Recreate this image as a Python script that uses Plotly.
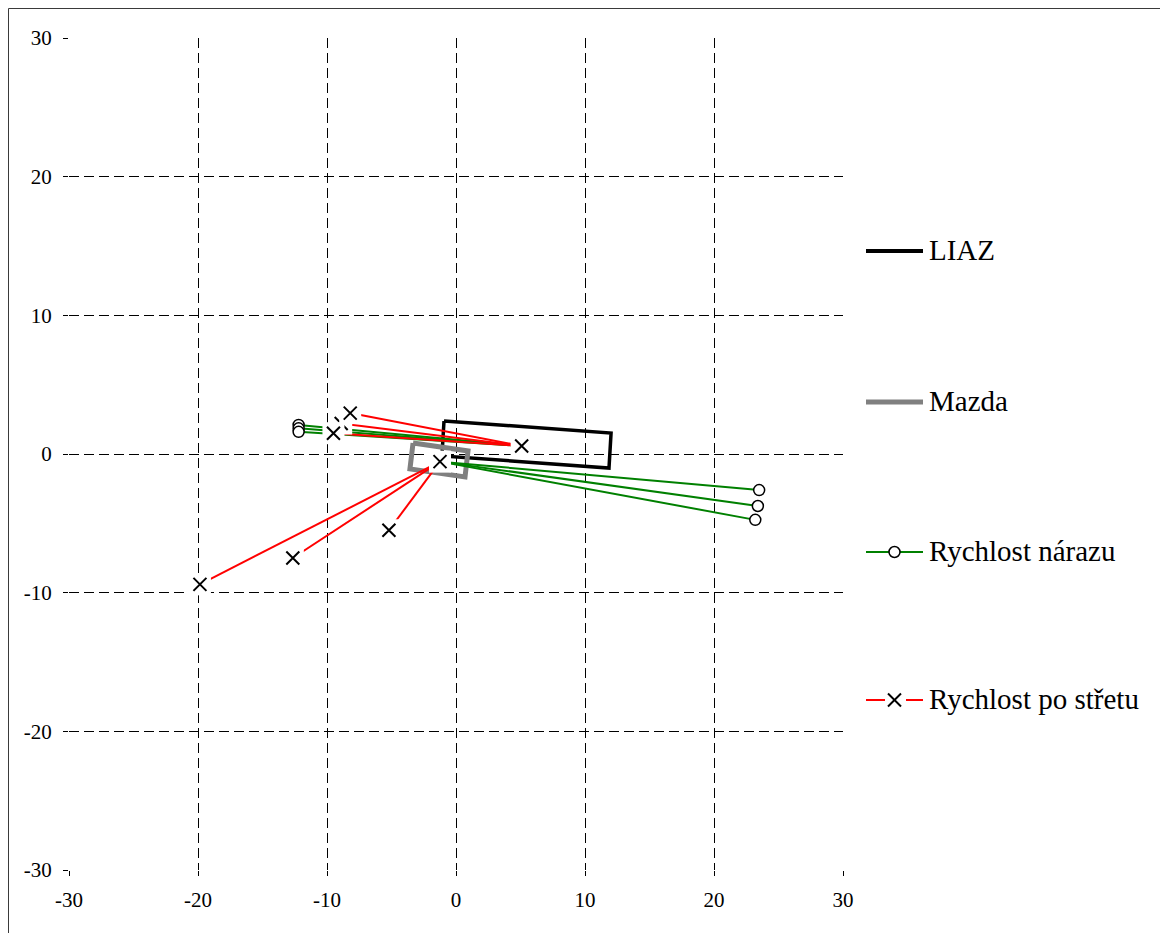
import plotly.graph_objects as go

# ---------------- data ----------------
tick_vals = [-30, -20, -10, 0, 10, 20, 30]
tick_text = ["-30", "-20", "-10", "0", "10", "20", "30"]

liaz_x = [-0.93, 12.02, 11.86, -1.09, -0.93]
liaz_y = [2.38, 1.51, -1.01, -0.14, 2.38]

mazda_x = [-3.33, 0.93, 0.70, -3.57, -3.33]
mazda_y = [0.79, 0.22, -1.66, -1.08, 0.79]

center_names = ["LIAZ", "Mazda"]
center_x = [5.09, -1.24]
center_y = [0.58, -0.55]

# Rychlost nárazu (impact velocity vectors)
impact_origin = [0, 0, 0, 1, 1, 1]
impact_end_x = [-12.2, -12.2, -12.2, 23.5, 23.4, 23.2]
impact_end_y = [2.1, 1.85, 1.6, -2.6, -3.75, -4.75]

# Rychlost po střetu (post-impact velocity vectors)
after_origin = [0, 0, 0, 1, 1, 1]
after_end_x = [-8.9, -8.2, -9.5, -19.85, -12.65, -5.2]
after_end_y = [2.2, 2.95, 1.5, -9.4, -7.5, -5.5]

legend_names = ["LIAZ", "Mazda", "Rychlost nárazu", "Rychlost po střetu"]

# ---------------- layout geometry ----------------
OFF = 8  # page body margin
W, H = 1168 - OFF, 933 - OFF
ML, MT = 69 - OFF, 38 - OFF
PW, PH = 774, 832
MR = W - ML - PW
MB = H - MT - PH
FONT = "Liberation Serif"


def px(xp):
    """page pixel x -> paper coordinate"""
    return (xp - OFF - ML) / PW


def py(yp):
    """page pixel y -> paper coordinate"""
    return (MT + PH - (yp - OFF)) / PH


def segments(orig, ex, ey):
    xs, ys = [], []
    for o, x, y in zip(orig, ex, ey):
        xs += [center_x[o], x, None]
        ys += [center_y[o], y, None]
    return xs, ys


fig = go.Figure()

fig.add_trace(go.Scatter(x=liaz_x, y=liaz_y, mode="lines", name="LIAZ",
                         line=dict(color="black", width=3.5), showlegend=False))
fig.add_trace(go.Scatter(x=mazda_x, y=mazda_y, mode="lines", name="Mazda",
                         line=dict(color="#808080", width=5), showlegend=False))

gx, gy = segments(impact_origin, impact_end_x, impact_end_y)
fig.add_trace(go.Scatter(x=gx, y=gy, mode="lines+markers", name="Rychlost nárazu",
                         line=dict(color="#008000", width=2),
                         marker=dict(symbol="circle", size=11, color="white",
                                     line=dict(color="black", width=1.5)),
                         showlegend=False))

rx, ry = segments(after_origin, after_end_x, after_end_y)
fig.add_trace(go.Scatter(x=rx, y=ry, mode="lines", name="Rychlost po střetu",
                         line=dict(color="#FF0000", width=2), showlegend=False))

# markers of post-impact series: white box behind an x, drawn point by point
marker_pts = list(zip(after_end_x, after_end_y)) + list(zip(center_x, center_y))
for mx, my in marker_pts:
    fig.add_trace(go.Scatter(x=[mx], y=[my], mode="markers", showlegend=False,
                             hoverinfo="skip",
                             marker=dict(symbol="square", size=22, color="white",
                                         line=dict(width=0))))
    fig.add_trace(go.Scatter(x=[mx], y=[my], mode="markers", showlegend=False,
                             name="Rychlost po střetu",
                             marker=dict(symbol="x-thin", size=13, color="black",
                                         line=dict(color="black", width=2))))

axis_common = dict(
    range=[-30, 30], tickvals=tick_vals, ticktext=tick_text,
    showgrid=True, gridcolor="black", gridwidth=1, griddash="10px,5px",
    zeroline=False, showline=False,
    ticks="outside", ticklen=5, tickcolor="black", tickwidth=1,
    tickfont=dict(family=FONT, size=21, color="black"),
)
fig.update_xaxes(**axis_common, ticklabelstandoff=6)
fig.update_yaxes(**axis_common, ticklabelstandoff=7)

shapes = []
annotations = []
# outer chart border (left and top edges visible)
bx, by = px(OFF + 0.5), py(OFF + 0.5)
shapes.append(dict(type="line", xref="paper", yref="paper", x0=bx, y0=by, x1=bx, y1=py(H + 40),
                   line=dict(color="#3a3a3a", width=1)))
shapes.append(dict(type="line", xref="paper", yref="paper", x0=bx, y0=by, x1=px(W + 40), y1=by,
                   line=dict(color="#3a3a3a", width=1)))

# custom legend (page pixel positions)
leg_y = [251, 402, 552, 700]
lx0, lx1, lxc = 866, 923, 894.5
shapes.append(dict(type="line", xref="paper", yref="paper", x0=px(lx0), x1=px(lx1),
                   y0=py(leg_y[0]), y1=py(leg_y[0]), line=dict(color="black", width=4)))
shapes.append(dict(type="line", xref="paper", yref="paper", x0=px(lx0), x1=px(lx1),
                   y0=py(leg_y[1]), y1=py(leg_y[1]), line=dict(color="#808080", width=5)))
shapes.append(dict(type="line", xref="paper", yref="paper", x0=px(lx0), x1=px(lx1),
                   y0=py(leg_y[2]), y1=py(leg_y[2]), line=dict(color="#008000", width=2)))
r = 5.5
shapes.append(dict(type="circle", xref="paper", yref="paper",
                   x0=px(lxc - r), x1=px(lxc + r), y0=py(leg_y[2] + r), y1=py(leg_y[2] - r),
                   fillcolor="white", line=dict(color="black", width=1.5)))
shapes.append(dict(type="line", xref="paper", yref="paper", x0=px(lx0), x1=px(885),
                   y0=py(leg_y[3]), y1=py(leg_y[3]), line=dict(color="#FF0000", width=2)))
shapes.append(dict(type="line", xref="paper", yref="paper", x0=px(906), x1=px(lx1),
                   y0=py(leg_y[3]), y1=py(leg_y[3]), line=dict(color="#FF0000", width=2)))
s = 6.5
shapes.append(dict(type="line", xref="paper", yref="paper", x0=px(lxc - s), x1=px(lxc + s),
                   y0=py(leg_y[3] - s), y1=py(leg_y[3] + s), line=dict(color="black", width=2)))
shapes.append(dict(type="line", xref="paper", yref="paper", x0=px(lxc - s), x1=px(lxc + s),
                   y0=py(leg_y[3] + s), y1=py(leg_y[3] - s), line=dict(color="black", width=2)))

for name, yy in zip(legend_names, leg_y):
    annotations.append(dict(xref="paper", yref="paper", x=px(927), y=py(yy - 1),
                            xanchor="left", yanchor="middle", text=name, showarrow=False,
                            font=dict(family=FONT, size=29, color="black")))

fig.update_layout(
    width=W, height=H,
    margin=dict(l=ML, r=MR, t=MT, b=MB, autoexpand=False),
    paper_bgcolor="white", plot_bgcolor="white",
    showlegend=False,
    shapes=shapes, annotations=annotations,
    font=dict(family=FONT, color="black"),
)

fig.write_html("out.html")
